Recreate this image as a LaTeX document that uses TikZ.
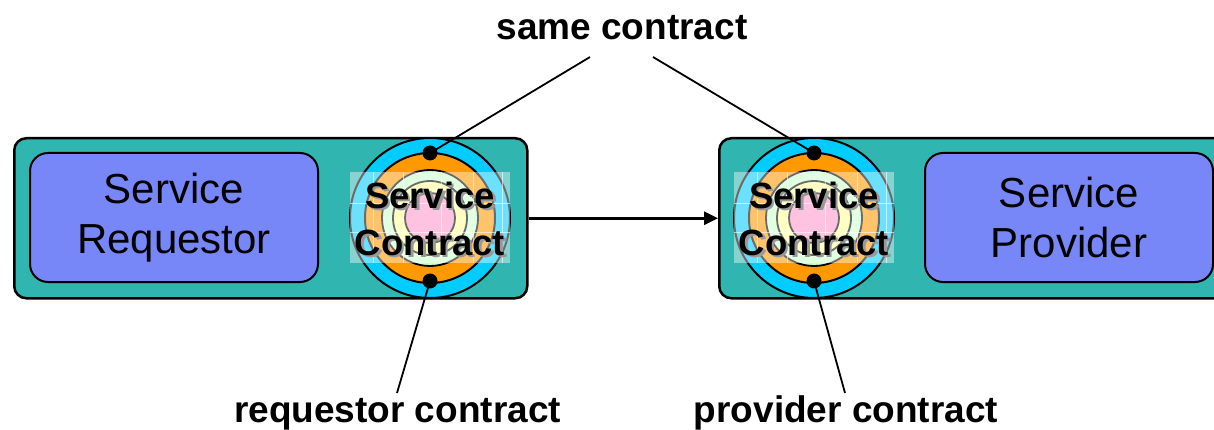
\documentclass[tikz,border=0pt]{standalone}
\usepackage{fontspec}
\setmainfont{Liberation Sans}
\usetikzlibrary{arrows.meta}

\definecolor{boxteal}{HTML}{30B5B0}
\definecolor{boxblue}{HTML}{7887F8}
\definecolor{ringcyan}{HTML}{00CCFF}
\definecolor{ringorange}{HTML}{FF9900}
\definecolor{ringgreen}{HTML}{CCFFCC}
\definecolor{ringyellow}{HTML}{FFFF99}
\definecolor{ringpink}{HTML}{FF99CC}

\tikzset{
  outerbox/.style={draw=black, line width=2.5pt, fill=boxteal, rounded corners=12pt,
    anchor=north west, inner sep=0pt},
  partybox/.style={draw=black, line width=2pt, fill=boxblue, rounded corners=18pt,
    minimum width=288pt, minimum height=129pt, align=center,
    font=\fontsize{42}{50}\selectfont},
  disc/.style={circle, draw=black, inner sep=0pt},
  pin/.style={circle, fill=black, minimum size=15pt, inner sep=0pt},
  contracttext/.style={align=center, font=\fontsize{36.5}{47}\selectfont\bfseries},
  label/.style={font=\fontsize{37}{40}\selectfont\bfseries, anchor=base, inner sep=0pt},
  leader/.style={line width=1.8pt, black},
  contractdisc/.pic={
    \node[disc, line width=2pt, fill=ringcyan, minimum size=160pt] (-outer) at (0,0) {};
    \node[disc, line width=2pt, fill=ringorange, minimum size=130pt] (-ring) at (0,0) {};
    \node[disc, line width=1.8pt, fill=ringgreen, minimum size=96pt] (-green) at (0,0) {};
    \node[disc, line width=1.8pt, fill=ringyellow, minimum size=74pt] (-yellow) at (0,0) {};
    \node[disc, line width=1.8pt, fill=ringpink, minimum size=50pt] (-pink) at (0,0) {};
    % translucent text panel with its faint grid
    \fill[white, opacity=0.42] (-80,-46) rectangle (80,45);
    \foreach \gx in {-57,-27,11,43,72}
      \draw[white, opacity=0.6, line width=0.8pt] (\gx,-46) -- (\gx,45);
    \foreach \gy in {-15,14}
      \draw[white, opacity=0.6, line width=0.8pt] (-80,\gy) -- (80,\gy);
    \node[pin] (-top) at (0,-65) {};
    \node[pin] (-bot) at (0,63) {};
    \node[contracttext, text=black!40] (-shadow) at (2.5,2.5) {Service\\Contract};
    \node[contracttext] (-text) at (0,1) {Service\\Contract};
  }
}

\begin{document}
\begin{tikzpicture}[x=1pt, y=-1pt]
  \useasboundingbox (0,0) rectangle (1214,430);
  \clip (0,0) rectangle (1214,430);

  % requestor side
  \node[outerbox, minimum width=513pt, minimum height=160pt] (reqside) at (13,137) {};
  \node[partybox] (requestor) at (174,217.5) {Service\\Requestor};
  \pic (L) at (430,218) {contractdisc};

  % provider side
  \node[outerbox, minimum width=560pt, minimum height=160pt] (provside) at (718,137) {};
  \node[partybox] (provider) at (1069,217.5) {Service\\Provider};
  \pic (R) at (814,218) {contractdisc};

  % message flow
  \draw[line width=2.8pt, -{Triangle[length=14pt, width=13pt]}] (reqside.east) -- (provside.west);

  % labels and their leader lines
  \node[label] (same) at (622,40) {same contract};
  \node[label] (reqlabel) at (397.5,422) {requestor contract};
  \node[label] (provlabel) at (846,422) {provider contract};

  \coordinate (sameL) at (590,57);
  \coordinate (sameR) at (653,57);
  \coordinate (reqend) at (397,393);
  \coordinate (provend) at (845,393);

  \draw[leader] (sameL) -- (L-top.center);
  \draw[leader] (sameR) -- (R-top.center);
  \draw[leader] (L-bot.center) -- (reqend);
  \draw[leader] (R-bot.center) -- (provend);
\end{tikzpicture}
\end{document}
